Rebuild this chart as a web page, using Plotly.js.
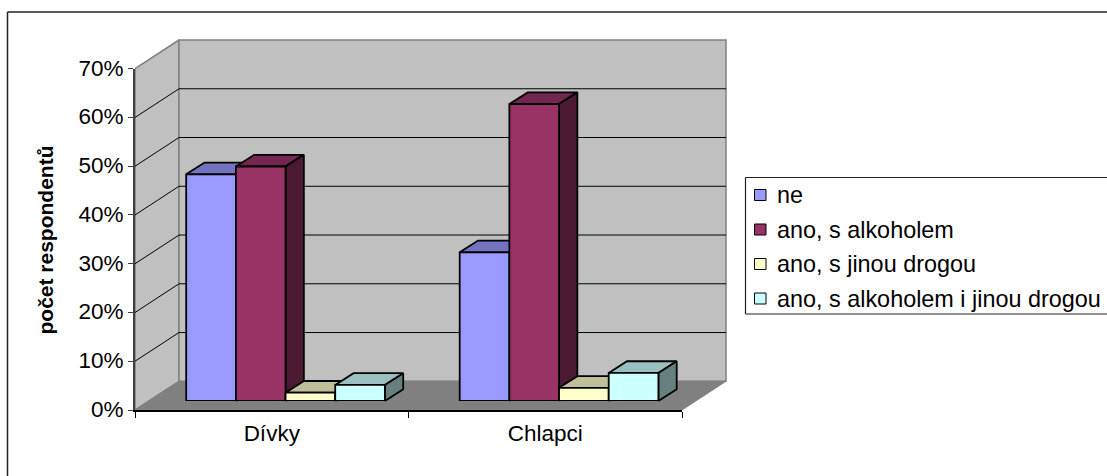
<!DOCTYPE html>
<html><head><meta charset="utf-8">
<script src="https://cdn.plot.ly/plotly-3.0.1.min.js"></script>
<style>html,body{margin:0;padding:0;background:#fff}</style>
</head><body><div id="chart" style="width:1107px;height:476px"></div>
<script>
const categories = ['Dívky', 'Chlapci'];
const ne = [46.5, 30.5];
const alkohol = [48.1, 60.9];
const droga = [1.7, 2.7];
const oboji = [3.3, 5.75];
const seriesNames = ['ne', 'ano, s alkoholem', 'ano, s jinou drogou', 'ano, s alkoholem i jinou drogou'];
const seriesValues = [ne, alkohol, droga, oboji];
const frontColors = ['#9999FF', '#993366', '#FFFFCC', '#CCFFFF'];
const topColors = ['#7373BF', '#732650', '#BFBF99', '#99BFBF'];
const sideColors = ['#4C4C80', '#4C1A33', '#808066', '#668080'];
const yTicks = [0, 10, 20, 30, 40, 50, 60, 70];

const W = 1107, H = 476;
const fx0 = 135, fx1 = 682, fy0 = 410, fy70 = 68.7;
const catPx = (fx1 - fx0) / 2, pctPx = (fy0 - fy70) / 70;
const wallDx = 44, wallDy = 28.7;
const barDx0 = 13.8, barDy0 = 9, barDepthX = 18.3, barDepthY = 11.7;
const bargap = 0.2735;
const domX = (a, b) => [a / W, b / W];
const domY = (top, bottom) => [1 - bottom / H, 1 - top / H];
const U = p => p / catPx, V = p => p / pctPx;

const traces = [];
function poly(xs, ys, fill, lineColor, lw) {
  traces.push({type:'scatter', mode:'lines', x:[...xs, xs[0]], y:[...ys, ys[0]], xaxis:'x', yaxis:'y',
    fill:'toself', fillcolor:fill, line:{color:lineColor, width:lw}, showlegend:false, hoverinfo:'skip'});
}
const wx = U(wallDx), wy = V(wallDy), xEnd = categories.length;
poly([0, wx, wx, 0], [0, wy, 70 + wy, 70], '#C0C0C0', '#808080', 1.5);
poly([wx, xEnd + wx, xEnd + wx, wx], [wy, wy, 70 + wy, 70 + wy], '#C0C0C0', '#808080', 1.5);
poly([0, xEnd, xEnd + wx, wx], [0, 0, wy, wy], '#808080', '#808080', 1);
yTicks.filter(t => t > 0 && t < 70).forEach(t => {
  traces.push({type:'scatter', mode:'lines', x:[0, wx, xEnd + wx], y:[t, t + wy, t + wy], xaxis:'x', yaxis:'y',
    line:{color:'#000', width:1}, showlegend:false, hoverinfo:'skip'});
});

const n = seriesValues.length, barW = (1 - bargap) / n;
const bx = U(barDx0), by = V(barDy0), dx = U(barDepthX), dy = V(barDepthY);
categories.forEach((c, ci) => {
  seriesValues.forEach((vals, k) => {
    const l = ci + bargap / 2 + k * barW + bx, r = l + barW, v = vals[ci] + by;
    poly([l, r, r + dx, l + dx], [v, v, v + dy, v + dy], topColors[k], '#000', 1.8);
    poly([r, r + dx, r + dx, r], [by, by + dy, v + dy, v], sideColors[k], '#000', 1.8);
  });
});

// visible front axes carrying the ticks
traces.push({type:'scatter', mode:'markers', x:categories, y:[null, null], xaxis:'x2', yaxis:'y2', showlegend:false, hoverinfo:'skip'});

// front faces
seriesValues.forEach((vals, k) => {
  traces.push({type:'bar', name:seriesNames[k], x:categories, y:vals, xaxis:'x3', yaxis:'y3',
    marker:{color:frontColors[k], line:{color:'#000', width:1.8}}, showlegend:false});
});

const pl = (x0, y0, x1, y1, w) => ({type:'line', xref:'paper', yref:'paper', x0:x0/W, x1:x1/W, y0:1-y0/H, y1:1-y1/H, line:{color:'#222', width:w}, layer:'above'});
const shapes = [
  pl(7.5, 12, W, 12, 1.5),
  pl(7.5, 12, 7.5, H, 1.5),
  pl(745.5, 177.5, W, 177.5, 1.2),
  pl(745.5, 177.5, 745.5, 314, 1.2),
  pl(745.5, 314, W, 314, 1.2)
];
const annotations = [];
const rowY = [195, 229.5, 264, 298.5];
seriesNames.forEach((nm, k) => {
  shapes.push({type:'rect', xref:'paper', yref:'paper', x0:754.5/W, x1:766/W, y0:1-(rowY[k]+5.5)/H, y1:1-(rowY[k]-5.5)/H,
    line:{color:'#000', width:1}, fillcolor:frontColors[k], layer:'above'});
  annotations.push({xref:'paper', yref:'paper', x:775/W, y:1-rowY[k]/H, xanchor:'left', yanchor:'middle', text:nm, showarrow:false,
    font:{family:'Liberation Sans, Arial, sans-serif', size:23.4, color:'#000'}});
});
annotations.push({xref:'paper', yref:'paper', x:44.5/W, y:1-240/H, xanchor:'center', yanchor:'middle', textangle:-90, text:'<b>počet respondentů</b>', showarrow:false,
  font:{family:'Liberation Sans, Arial, sans-serif', size:21, color:'#000'}});

const hidden = {visible:false, fixedrange:true};
const layout = {
  width:W, height:H, margin:{l:0, r:0, t:0, b:0}, paper_bgcolor:'#fff', plot_bgcolor:'rgba(0,0,0,0)',
  showlegend:false, hovermode:false, bargap:bargap, bargroupgap:0, barmode:'group',
  font:{family:'Liberation Sans, Arial, sans-serif', color:'#000'},
  xaxis:{...hidden, domain:domX(fx0, fx0 + 600), range:[0, U(600)], anchor:'y'},
  yaxis:{...hidden, domain:domY(fy0 - 380, fy0), range:[0, V(380)], anchor:'x'},
  xaxis2:{domain:domX(fx0, fx1), type:'category', categoryorder:'array', categoryarray:categories, range:[-0.5, 1.5], anchor:'y2',
    tickson:'boundaries', ticks:'outside', ticklen:6, tickwidth:1, tickcolor:'#000', showline:true, linecolor:'#000', linewidth:1.5,
    showgrid:false, zeroline:false, tickfont:{size:22.5, color:'#000'}, ticklabelstandoff:2, fixedrange:true},
  yaxis2:{domain:domY(fy70, fy0), range:[0, 70], anchor:'x2', tickmode:'array', tickvals:yTicks, ticktext:yTicks.map(t => t + '%'),
    ticks:'outside', ticklen:5, tickwidth:1, tickcolor:'#404040', showline:true, linecolor:'#404040', linewidth:2,
    showgrid:false, zeroline:false, tickfont:{size:22.5, color:'#000'}, ticklabelshift:-1, fixedrange:true},
  xaxis3:{...hidden, domain:domX(fx0 + barDx0, fx1 + barDx0), type:'category', categoryorder:'array', categoryarray:categories, range:[-0.5, 1.5], anchor:'y3'},
  yaxis3:{...hidden, domain:domY(fy70 - barDy0, fy0 - barDy0), range:[0, 70], anchor:'x3'},
  shapes, annotations
};
Plotly.newPlot('chart', traces, layout, {displayModeBar:false, staticPlot:true});
</script></body></html>
